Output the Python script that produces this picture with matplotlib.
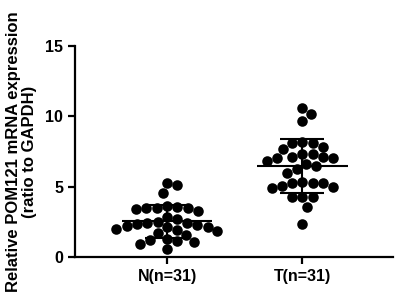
import numpy as np
import matplotlib
matplotlib.use("Agg")
import matplotlib.pyplot as plt

plt.rcParams['font.family'] = ['Liberation Sans', 'DejaVu Sans']

# ---------------------- Data ---------------------- #
groups = ["N(n=31)", "T(n=31)"]
normal = [5.25, 5.1, 4.55,
          3.6, 3.55, 3.5, 3.5, 3.5, 3.4, 3.3,
          2.85, 2.7,
          2.5, 2.45, 2.4, 2.35,
          2.25, 2.2, 2.15, 2.1, 2.0, 1.95,
          1.85, 1.7, 1.55,
          1.3, 1.2, 1.15, 1.05,
          0.95, 0.55]
tumor = [10.6, 10.2, 9.7,
         8.15, 8.12, 8.1, 7.85, 7.65,
         7.3, 7.3, 7.13, 7.1, 7.06, 7.05, 6.82, 6.6,
         6.47, 6.23, 5.99,
         5.31, 5.28, 5.28, 5.27, 5.05, 5.0, 4.88,
         4.25, 4.24, 4.23,
         3.57, 2.35]

# ---------------------- Layout ---------------------- #
W, H, DPI = 397, 301, 100
fig = plt.figure(figsize=(W / DPI, H / DPI), dpi=DPI)
ax = fig.add_axes([75 / W, 44 / H, 318 / W, 211 / H])
ax.set_xlim(-0.68, 1.67)
ax.set_ylim(0, 15)

# pixel scale of data units, used for the swarm layout
px_x = 318 / (1.67 + 0.68)
px_y = 211 / 15
diam = 10.5  # marker diameter in px


def swarm(values, center):
    """Simple beeswarm: put each point at the nearest free offset."""
    placed = []
    xs = np.zeros(len(values))
    order = np.argsort(values)[::-1]
    for i in order:
        y = values[i] * px_y
        cands = [0.0]
        for (px, py) in placed:
            dy = y - py
            if abs(dy) < diam:
                dx = np.sqrt(diam ** 2 - dy ** 2)
                cands += [px + dx, px - dx]
        cands.sort(key=abs)
        for c in cands:
            if all((c - px) ** 2 + (y - py) ** 2 >= diam ** 2 - 1e-6 for px, py in placed):
                xs[i] = c
                placed.append((c, y))
                break
    return center + xs / px_x


for pos, vals in enumerate([normal, tumor]):
    vals = np.array(vals)
    xs = swarm(vals, pos)
    ax.plot(xs, vals, "o", color="black", markersize=7.6, markeredgewidth=0, zorder=2)
    m, sd = vals.mean(), vals.std(ddof=1)
    ax.hlines(m, pos - 0.335, pos + 0.335, color="black", lw=1.5, zorder=3)
    ax.errorbar(pos, m, yerr=sd, fmt="none", ecolor="black", elinewidth=1.5,
                capsize=16, capthick=1.5, zorder=3)

# ---------------------- Axes styling ---------------------- #
for side in ["top", "right"]:
    ax.spines[side].set_visible(False)
for side in ["left", "bottom"]:
    ax.spines[side].set_linewidth(1.6)
ax.set_yticks([0, 5, 10, 15])
ax.set_xticks([0, 1])
ax.set_xticklabels(groups)
ax.tick_params(width=1.6, length=5, labelsize=11.5)
for lbl in ax.get_xticklabels() + ax.get_yticklabels():
    lbl.set_fontweight("bold")
ax.set_ylabel("Relative POM121 mRNA expression\n(ratio to GAPDH)",
              fontsize=12, fontweight="bold", linespacing=1.05, labelpad=6)

fig.savefig("out.png", dpi=DPI)
